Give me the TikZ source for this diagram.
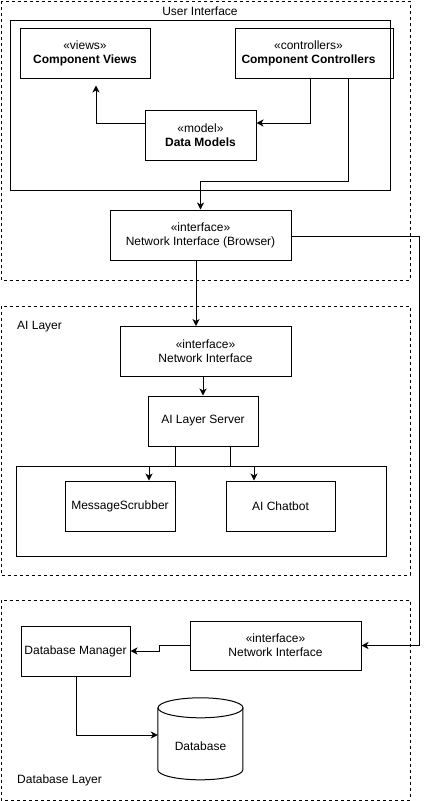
\documentclass[tikz,border=0pt]{standalone}
\usepackage{fontspec}
\setmainfont{Liberation Sans}
\usetikzlibrary{arrows.meta,calc}
\begin{document}
\begin{tikzpicture}[x=1pt,y=-1pt,
  txt/.style={font=\fontsize{12}{14}\selectfont},
  box/.style={draw,line width=1pt,rectangle,inner sep=0pt,align=center,txt,minimum height=50pt},
  group/.style={draw,line width=1pt,dash pattern=on 3pt off 3pt},
  frame/.style={draw,line width=1pt},
  arr/.style={line width=1pt,-{Stealth[length=7pt,width=7pt,inset=2pt]}},
  ln/.style={line width=1pt}]
\useasboundingbox (0,0) rectangle (429,801);
\fill[white] (0,0) rectangle (429,801);
% groups
\draw[group] (1,1) rectangle (410,280);
\draw[group] (1,306) rectangle (410,575);
\draw[group] (1,600) rectangle (410,800);
\draw[frame] (10,20) rectangle (390,190);
\draw[frame] (16,466) rectangle (386,556);
\node[txt] (uilabel) at (200,11) {User Interface};
\node[txt,anchor=west,inner sep=0pt] (ailabel) at (17,327) {AI Layer};
\node[txt,anchor=west,inner sep=0pt] (dblabel) at (17,780) {Database Layer};
% UI nodes
\node[box,minimum width=130pt] (views) at (85,53) {«views»\\\textbf{Component Views}};
\node[box,minimum width=158pt] (ctrl) at (314,53) {};
\node[txt,align=center,inner sep=0pt] (ctrltext) at (308.5,53) {«controllers»\\\textbf{Component Controllers}};
\node[box,minimum width=111pt] (model) at (200.5,135) {«model»\\\textbf{Data Models}};
\node[box,minimum width=181pt] (browser) at (200.5,235) {«interface»\\Network Interface (Browser)};
% AI nodes
\node[box,minimum width=171pt] (aini) at (205.5,351.5) {«interface»\\Network Interface};
\node[box,minimum width=110pt] (server) at (203,421) {AI Layer Server};
\node[box,minimum width=110pt] (scrub) at (120,506) {MessageScrubber};
\node[box,minimum width=109pt] (chat) at (280.5,506) {AI Chatbot};
% DB nodes
\node[box,minimum width=171pt,minimum height=49pt] (dbni) at (275.5,645.5) {«interface»\\Network Interface};
\node[box,minimum width=109pt] (dbm) at (75.5,651) {Database Manager};
\node[txt,inner sep=0pt,minimum width=85pt,minimum height=82pt] (db) at (200.5,739) {};
\draw[line width=1pt,fill=white] ($(db.north west)+(0,10)$) -- ++(0,62)
   arc[start angle=180,end angle=0,x radius=42.5,y radius=10] -- ++(0,-62);
\draw[line width=1pt] ($(db.north)+(0,10)$) ellipse [x radius=42.5,y radius=10];
\node[txt] (dbtext) at (200.5,746) {Database};
% connectors
\draw[arr] ([xshift=-4pt]ctrl.south) |- ([yshift=12pt]model.east);
\draw[arr] ([yshift=12pt]model.west) -| ([xshift=11pt,yshift=-7pt]views.south);
\draw[arr] ([xshift=34pt]ctrl.south) -- ++(0,103) -| (browser.north);
\draw[arr] ([yshift=-1pt]browser.east) -- ++(128,0) |- (dbni.east);
\draw[arr] ([xshift=-4.5pt]browser.south) -- ([xshift=-9.5pt]aini.north);
\draw[arr] (aini.south -| server.north) -- (server.north);
\draw[arr] ([xshift=-28pt]server.south) -- ++(0,20) -| ([xshift=29pt]scrub.north);
\draw[arr] ([xshift=27pt]server.south) -- ++(0,20) -| ([xshift=-26.5pt]chat.north);
\draw[arr] (dbni.west) -- ++(-30,0) |- (dbm.east);
\draw[arr] ([xshift=0.5pt]dbm.south) |- ([yshift=4pt]db.west);
\end{tikzpicture}
\end{document}
